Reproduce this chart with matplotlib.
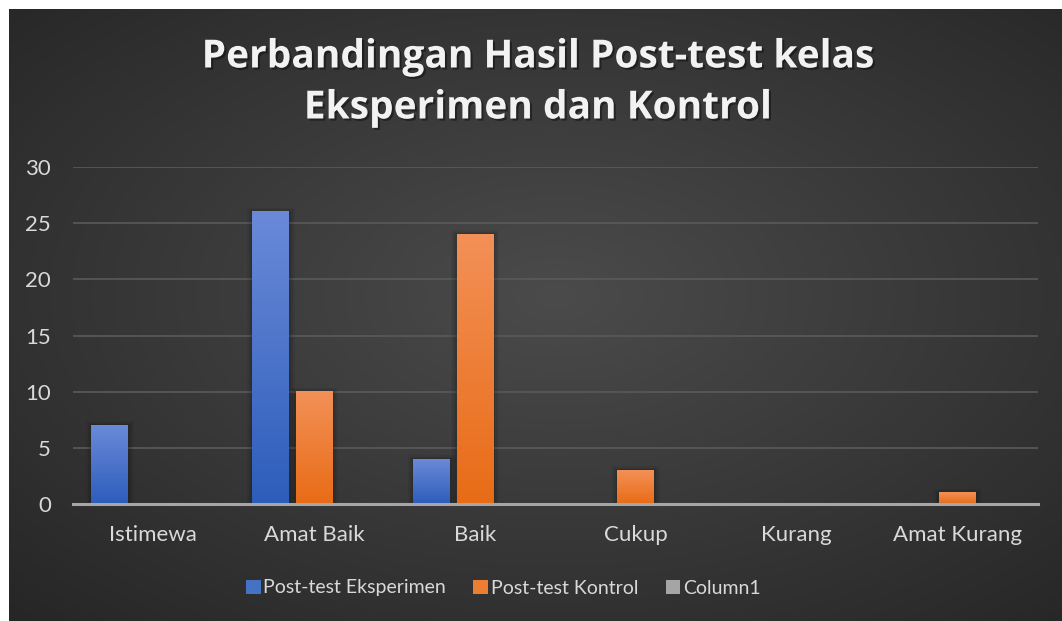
import numpy as np
import matplotlib
matplotlib.use("Agg")
import matplotlib.pyplot as plt
import matplotlib.patheffects as pe
from matplotlib.colors import LinearSegmentedColormap
from matplotlib.patches import Patch

plt.rcParams['font.family'] = ['Lato', 'DejaVu Sans']

categories = ["Istimewa", "Amat Baik", "Baik", "Cukup", "Kurang", "Amat Kurang"]
eksperimen = [7, 26, 4, 0, 0, 0]
kontrol = [0, 10, 24, 3, 0, 1]
column1 = [0, 0, 0, 0, 0, 0]
series_names = ["Post-test Eksperimen", "Post-test Kontrol", "Column1"]
yticks = [0, 5, 10, 15, 20, 25, 30]

W, H = 1062, 621
fig = plt.figure(figsize=(W / 100, H / 100), dpi=100, facecolor="white")

# dark background with radial glow
bg = fig.add_axes([9 / W, 0, 1 - 9 / W, 1 - 9 / H])
yy, xx = np.mgrid[0:300, 0:520]
r = np.sqrt(((xx - 270) / 520) ** 2 + ((yy - 140) / 300) ** 2)
r = np.clip(r / 0.75, 0, 1)
bg_cmap = LinearSegmentedColormap.from_list("bg", ["#4b4b4b", "#262626"])
bg.imshow(r, cmap=bg_cmap, aspect="auto", interpolation="bilinear")
bg.set_axis_off()

ax = fig.add_axes([73 / W, (H - 504) / H, 965 / W, 337 / H])
ax.set_facecolor("none")

x = np.arange(len(categories))
width = 0.23
offsets = [-0.27, 0.0, 0.27]
colors = [("#6a8ad8", "#2d5dbb"), ("#f39057", "#e86c16"), ("#b0b0b0", "#8c8c8c")]
all_vals = [eksperimen, kontrol, column1]


def grad_bar(ax, bar, top, bottom):
    cm = LinearSegmentedColormap.from_list("g", [bottom, top])
    x0, y0 = bar.get_x(), bar.get_y()
    w, h = bar.get_width(), bar.get_height()
    if h <= 0:
        return
    # soft shadow
    for k, a in [(0.035, 0.06), (0.022, 0.08), (0.01, 0.10)]:
        ax.add_patch(plt.Rectangle((x0 - k, y0), w + 2 * k, h + k * 10,
                                   color="black", alpha=a, lw=0, zorder=1.5))
    g = np.linspace(0, 1, 100).reshape(-1, 1)
    ax.imshow(g, cmap=cm, extent=(x0, x0 + w, y0, y0 + h), origin="lower",
              aspect="auto", zorder=2)
    bar.set_visible(False)


for vals, off, (top, bottom) in zip(all_vals, offsets, colors):
    bars = ax.bar(x + off, vals, width, zorder=2)
    for b in bars:
        grad_bar(ax, b, top, bottom)

ax.set_xlim(-0.5, len(categories) - 0.5)
ax.set_ylim(0, 30)
ax.set_yticks(yticks)
ax.set_xticks(x)
ax.set_xticklabels(categories)
ax.grid(axis="y", color="#5a5a5a", lw=1.2, zorder=0)
ax.set_axisbelow(True)
for s in ["top", "right", "left"]:
    ax.spines[s].set_visible(False)
ax.spines["bottom"].set_color("#a6a6a6")
ax.spines["bottom"].set_linewidth(2.2)
ax.spines["bottom"].set_zorder(3)
ax.tick_params(axis="both", length=0, colors="#d9d9d9", labelsize=16)
ax.tick_params(axis="y", pad=16)
ax.tick_params(axis="x", pad=15)

shadow = [pe.withSimplePatchShadow(offset=(1.5, -1.5), shadow_rgbFace="black", alpha=0.4)]
title_kw = dict(ha="center", va="center", fontsize=28, fontweight="bold",
                color="#f2f2f2", family=["Open Sans", "DejaVu Sans"],
                path_effects=shadow)
fig.text(0.506, 1 - 57 / H, "Perbandingan Hasil Post-test kelas", **title_kw)
fig.text(0.506, 1 - 108 / H, "Eksperimen dan Kontrol", **title_kw)

handles = [Patch(facecolor=c, edgecolor="none") for c in ["#4472c4", "#ed7d31", "#a5a5a5"]]
leg = fig.legend(handles, series_names, loc="center", bbox_to_anchor=(0.474, 1 - 588 / H),
                 ncol=3, frameon=False, fontsize=14, handlelength=0.75,
                 handleheight=0.75, handletextpad=0.15, columnspacing=1.4,
                 labelcolor="#d9d9d9")

fig.savefig("out.png", dpi=100, facecolor="white")
